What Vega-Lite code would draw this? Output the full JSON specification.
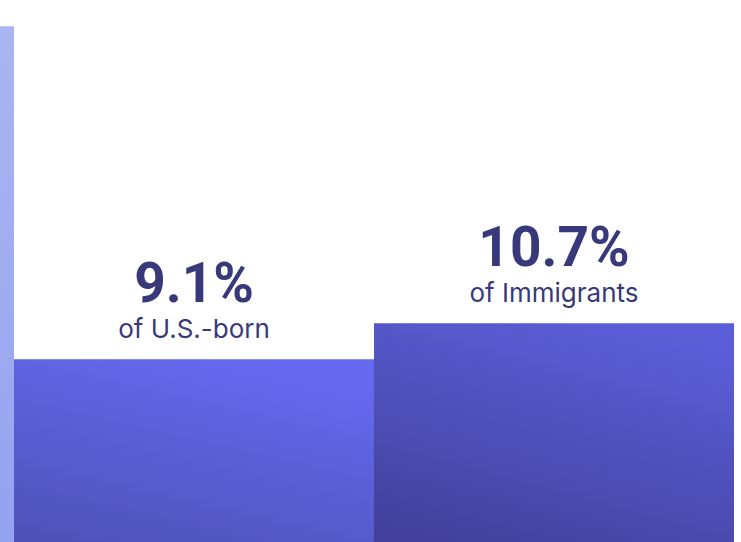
{
  "$schema": "https://vega.github.io/schema/vega-lite/v6.json",
  "width": 741,
  "height": 564,
  "autosize": "none",
  "padding": 0,
  "background": "white",
  "config": {"view": {"stroke": null}},
  "data": {"values": [
    {"group": "Other", "value": 23.9, "pct": "", "label": ""},
    {"group": "U.S.-born", "value": 9.1, "pct": "9.1%", "label": "of U.S.-born"},
    {"group": "Immigrants", "value": 10.7, "pct": "10.7%", "label": "of Immigrants"}
  ]},
  "encoding": {
    "x": {"field": "group", "type": "nominal", "sort": null, "axis": null,
          "scale": {"domain": ["Other", "U.S.-born", "Immigrants"], "range": [-346, 734], "paddingInner": 0, "paddingOuter": 0}},
    "y": {"field": "value", "type": "quantitative", "axis": null,
          "scale": {"domain": [0, 25.07], "nice": false, "zero": true}}
  },
  "layer": [
    {"transform": [{"filter": "datum.group === 'Other'"}],
     "mark": {"type": "bar", "clip": true, "color": {"gradient": "linear", "x1": 0, "y1": 0, "x2": 0, "y2": 1,
       "stops": [{"offset": 0, "color": "#abb5f1"}, {"offset": 1, "color": "#93a2f0"}]}}},
    {"transform": [{"filter": "datum.group === 'U.S.-born'"}],
     "mark": {"type": "bar", "clip": true, "color": {"gradient": "linear", "x1": 0.7, "y1": 0, "x2": 0.3, "y2": 1,
       "stops": [{"offset": 0, "color": "#6669f0"}, {"offset": 1, "color": "#4e52b6"}]}}},
    {"transform": [{"filter": "datum.group === 'Immigrants'"}],
     "mark": {"type": "bar", "clip": true, "color": {"gradient": "linear", "x1": 0.7, "y1": 0, "x2": 0.3, "y2": 1,
       "stops": [{"offset": 0, "color": "#5b5ed8"}, {"offset": 1, "color": "#42409a"}]}}},
    {"transform": [{"filter": "datum.group !== 'Other'"}],
     "mark": {"type": "text", "font": "Roboto", "fontWeight": "bold", "fontSize": 55, "baseline": "alphabetic", "align": "center", "dy": -57, "color": "#37397a"},
     "encoding": {"text": {"field": "pct"}}},
    {"transform": [{"filter": "datum.group !== 'Other'"}],
     "mark": {"type": "text", "font": "Inter", "fontSize": 26, "baseline": "alphabetic", "align": "center", "dy": -21, "color": "#37397a"},
     "encoding": {"text": {"field": "label"}}}
  ]
}
